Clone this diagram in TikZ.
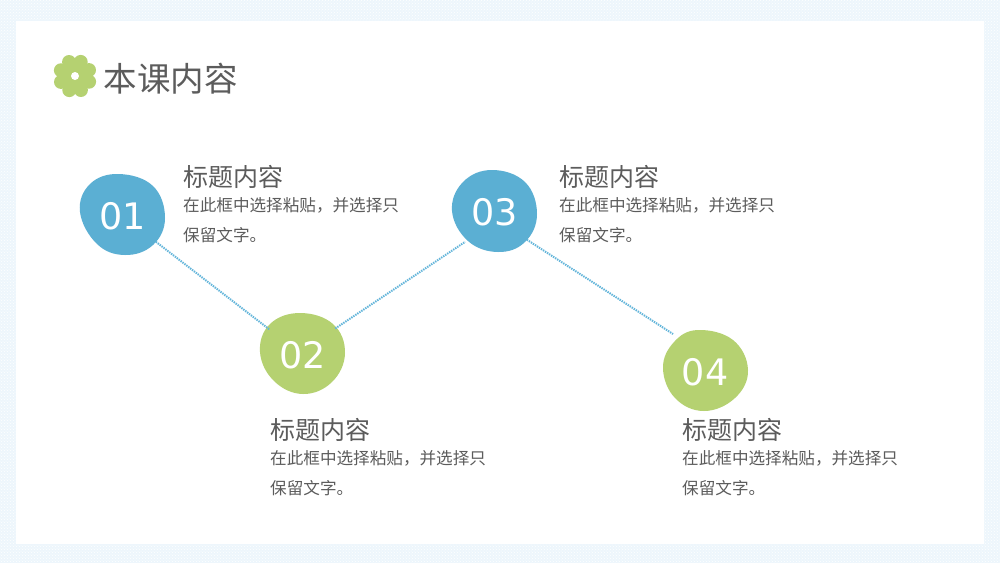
\documentclass[tikz,border=0pt]{standalone}
\usepackage{fontspec}
\usepackage{xcolor}
\setmainfont{Noto Sans CJK SC}
\newfontfamily\numfont{DejaVu Sans}
\usetikzlibrary{positioning,patterns}
\definecolor{blobblue}{HTML}{5BAFD3}
\definecolor{blobgreen}{HTML}{B5D171}
\definecolor{textgray}{HTML}{5C5C5C}
\definecolor{edgeblue}{HTML}{62B5DA}
\definecolor{paperblue}{HTML}{EDF6FC}

\begin{document}
\begin{tikzpicture}[x=1pt, y=-1pt,
        num/.style={circle, minimum size=84pt, inner sep=0pt, text=white, font=\numfont\fontsize{36.5}{36.5}\selectfont},
        heading/.style={anchor=west, inner sep=0pt, text=textgray, font=\fontsize{25}{25}\selectfont},
        bodytext/.style={anchor=north west, inner sep=0pt, align=left, text=textgray, font=\fontsize{16.6}{30}\selectfont},
        blob/.style={smooth cycle, tension=0.68},
        link/.style={edgeblue, line width=2pt, dash pattern=on 1.4pt off 1pt}]
            \fill[paperblue] (0,0) rectangle (1000,563);
            \fill[pattern=crosshatch dots, pattern color=white] (0,0) rectangle (1000,563);
            \fill[white] (16,21) rectangle (984,544);

            \foreach \a in {0,45,...,315}
                \fill[blobgreen] (75,76) ++(\a+22:15.2) circle (7);
            \fill[blobgreen] (75,76) circle (11);
            \fill[white] (75,76) circle (4);
            \node[anchor=west, inner sep=0pt, text=textgray, font=\fontsize{33.5}{33.5}\selectfont] (title) at (103.5,79) {本课内容};

            \fill[blobblue] plot[blob] coordinates {(119,174) (153,186) (165,218) (153,245) (125,255) (97,244) (80,212) (90,184)};
            \fill[blobgreen] plot[blob] coordinates {(300,313) (333,324) (345,353) (332,382) (303,394) (274,381) (260,352) (270,324)};
            \fill[blobblue] plot[blob] coordinates {(492,170) (525,182) (537,214) (525,242) (498,252) (468,241) (452,211) (463,182)};
            \fill[blobgreen] plot[blob] coordinates {(698,330) (733,340) (748,370) (735,398) (704,411) (675,398) (663,368) (674,342)};

            \node[num] (num1) at (122.5,216) {01};
            \node[num] (num2) at (302.5,355) {02};
            \node[num] (num3) at (495,212) {03};
            \node[num] (num4) at (705,372) {04};
            \coordinate (end4) at (673,334);

            \draw[link] (num1) -- (num2);
            \draw[link] (num2.39) -- (num3.225);
            \draw[link] (num3.-41) -- (end4);

            \node[heading] (head1) at (183,177) {标题内容};
            \node[heading] (head2) at (270,430) {标题内容};
            \node[heading] (head3) at (559,177) {标题内容};
            \node[heading] (head4) at (682,430) {标题内容};

            \node[bodytext, below=8.5pt of head1.south west, anchor=north west] (body1) {在此框中选择粘贴，并选择只\\保留文字。};
            \node[bodytext, below=8.5pt of head2.south west, anchor=north west] (body2) {在此框中选择粘贴，并选择只\\保留文字。};
            \node[bodytext, below=8.5pt of head3.south west, anchor=north west] (body3) {在此框中选择粘贴，并选择只\\保留文字。};
            \node[bodytext, below=8.5pt of head4.south west, anchor=north west] (body4) {在此框中选择粘贴，并选择只\\保留文字。};
        \end{tikzpicture}
\end{document}
